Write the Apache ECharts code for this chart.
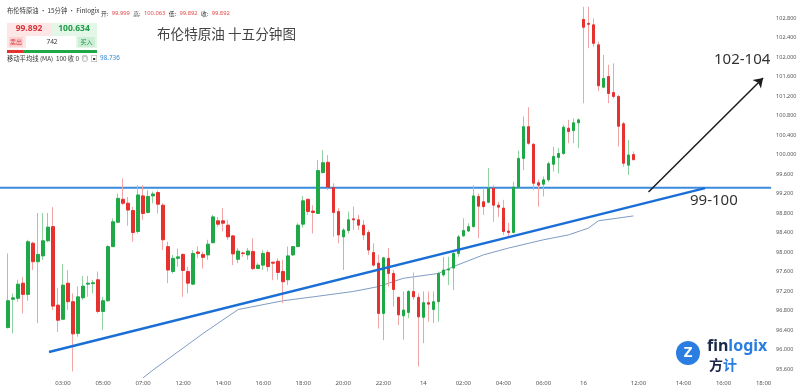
<!DOCTYPE html>
<html><head><meta charset="utf-8">
<script src="https://cdn.jsdelivr.net/npm/echarts@6/dist/echarts.min.js"></script>
<style>html,body{margin:0;padding:0;background:#fff}#c{width:800px;height:391px}</style>
</head><body><div id="c"></div>
<script>
// ---- data ----
const opens = [null,
96.45,97.03,97.05,97.36,97.13,98.18,97.80,97.92,98.23,98.52,
96.91,96.62,97.36,96.98,96.33,97.06,97.34,97.35,97.43,96.78,
97.00,98.11,98.61,99.08,99.00,98.85,98.42,99.15,98.81,99.15,
99.22,98.96,98.11,97.60,97.87,97.95,97.60,97.34,98.00,97.95,
97.94,98.19,98.64,98.64,98.55,98.33,97.85,97.98,97.94,98.01,
97.66,97.73,97.99,97.79,97.81,97.60,97.43,97.94,98.11,98.57,
99.08,98.84,98.79,99.63,99.84,99.32,98.83,98.31,98.44,98.68,
98.66,98.55,98.40,97.99,97.77,96.74,97.87,97.56,97.07,96.69,
96.76,97.19,97.07,96.66,96.96,96.82,96.98,97.53,97.63,97.67,
97.97,98.33,98.43,98.52,99.14,99.03,99.02,99.31,98.96,98.90,
98.43,98.40,99.33,99.92,100.57,100.21,99.42,99.39,99.48,99.80,
99.94,100.02,100.54,100.49,100.65,102.77,102.69,102.66,102.25,101.38,
101.60,101.27,101.19,100.63,99.78,99.999];
const closes = [null,
97.00,97.06,97.34,97.13,98.21,97.80,97.95,98.23,98.51,96.89,
96.60,97.32,96.98,96.32,97.08,97.30,97.36,97.37,96.78,97.00,
98.11,98.62,99.10,99.00,98.86,98.40,99.17,98.79,99.14,99.19,
98.98,98.25,97.63,97.87,97.90,97.62,97.36,97.97,97.97,97.89,
98.16,98.72,98.57,98.59,98.31,97.96,98.02,97.97,98.02,97.66,
97.73,97.97,97.70,97.77,97.58,97.39,97.92,98.11,98.55,99.05,
98.83,98.81,99.67,99.83,99.33,98.81,98.35,98.45,98.66,98.66,
98.55,98.35,98.04,97.73,96.74,97.88,97.56,97.23,96.71,96.81,
97.19,97.08,96.67,96.96,96.93,96.98,97.56,97.63,97.65,97.97,
98.31,98.44,98.52,99.15,98.94,98.93,99.31,98.96,98.92,98.42,
98.40,99.33,99.92,100.57,100.23,99.41,99.37,99.48,99.81,99.96,
100.02,100.56,100.47,100.65,100.71,102.61,102.67,102.28,101.41,101.56,
101.25,101.19,100.58,99.82,99.99,99.892];
const lows = [null,
96.43,96.33,96.98,96.74,97.00,97.63,96.54,97.84,98.20,96.81,
96.36,96.61,96.81,95.55,96.26,97.02,97.08,97.15,96.74,96.40,
96.98,98.10,98.59,98.96,98.54,98.21,98.38,98.66,98.79,99.00,
98.79,98.04,97.36,97.56,97.70,97.08,97.15,97.32,97.87,97.66,
97.84,98.18,98.52,98.42,98.25,97.73,97.77,97.90,97.84,97.63,
97.65,97.63,97.60,97.42,97.43,96.95,97.32,97.92,98.10,98.50,
98.76,98.38,98.78,99.61,99.27,98.31,98.18,97.63,98.38,98.45,
98.45,98.25,97.94,97.70,96.43,96.19,97.29,96.88,96.50,96.20,
96.64,97.02,95.65,96.13,96.57,96.54,96.57,97.49,97.32,97.22,
97.90,98.31,98.41,98.50,98.28,98.76,99.00,98.62,98.72,98.35,
98.31,98.38,99.31,99.68,100.20,99.27,98.93,99.14,99.44,99.65,
99.61,99.99,100.23,100.23,100.13,101.05,102.18,102.21,101.30,101.36,
101.05,101.15,100.16,99.75,99.58,99.892];
const highs = [null,
97.97,97.15,97.43,97.49,98.25,98.21,98.80,98.80,98.80,98.92,
97.26,97.75,97.63,97.15,97.29,97.51,97.51,97.43,97.60,97.08,
98.14,98.69,99.20,99.51,99.13,98.93,99.37,99.37,99.27,99.24,
99.26,99.00,98.21,97.94,98.07,97.97,97.70,98.04,98.11,98.01,
98.25,98.76,98.72,98.90,98.66,98.35,98.08,98.01,98.08,98.28,
97.77,98.04,98.04,97.80,97.87,97.84,98.11,98.12,98.59,99.15,
99.10,98.96,99.89,100.09,99.99,99.41,98.90,98.49,98.83,98.93,
98.76,98.66,98.45,98.18,97.94,97.90,98.08,97.63,97.08,97.19,
97.22,97.58,97.15,97.19,97.19,97.19,97.60,97.90,97.90,98.01,
98.35,98.69,98.59,99.37,99.20,99.31,99.72,99.37,99.03,99.07,
98.60,99.44,100.08,100.78,100.97,100.23,99.48,99.55,99.85,100.16,
100.13,100.61,100.71,100.74,100.74,103.03,103.03,102.79,102.31,102.04,
101.84,101.87,101.22,100.67,100.30,100.063];

const tickIndex = [12,20,28,36,44,52,60,68,76,84,92,100,108,116,127,136,144,152];
const tickText  = ['03:00','05:00','07:00','12:00','14:00','16:00','18:00','20:00','22:00','14','02:00','04:00','06:00','16','12:00','14:00','16:00','18:00'];
const yTicks = {min: 95.2, max: 103.169, step: 0.4};
const slotCount = 154;

const maX = [28,30,40,47,56,62,70,75,80,87,90,96,101,108,113,117,119,126];
const maY = [95.42,95.58,96.33,96.82,97.00,97.08,97.19,97.29,97.46,97.56,97.70,97.94,98.08,98.25,98.35,98.49,98.64,98.74];

const resistanceX = [-0.6, 153.5];
const resistanceY = 99.32;
const trendX = [9.2, 140.3];
const trendY = [95.95, 99.31];
const arrowX = [129.0, 151.9];
const arrowY = [99.23, 101.57];

// ---- build ----
const cats = Array.from({length: slotCount}, (_, i) => String(i));
const labelFor = {};
tickIndex.forEach((k, j) => { labelFor[k] = tickText[j]; });
const wickData = [], bodyData = [];
for (let i = 0; i < opens.length; i++) {
  if (opens[i] == null) { wickData.push('-'); bodyData.push('-'); continue; }
  wickData.push([opens[i], closes[i], lows[i], highs[i]]);
  bodyData.push([opens[i], closes[i], Math.min(opens[i], closes[i]), Math.max(opens[i], closes[i])]);
}
const GREEN = '#1fa846', RED = '#e5322f';
const FONT = "'Noto Sans','Noto Sans CJK SC',sans-serif";
const CJK = "'Noto Sans CJK SC','Noto Sans',sans-serif";

const chart = echarts.init(document.getElementById('c'), null, {renderer: 'canvas'});
chart.setOption({
  animation: false,
  backgroundColor: '#fff',
  grid: {left: -1.95, right: 28.9, top: 0, bottom: 2.52, containLabel: false},
  xAxis: [
    {type: 'category', data: cats, boundaryGap: true,
     axisLine: {show: false}, axisTick: {show: false}, splitLine: {show: false},
     axisLabel: {inside: true, margin: 2, interval: 0, fontSize: 6, color: '#555', fontFamily: FONT,
       formatter: (v, idx) => labelFor[idx] || ''}},
    {type: 'value', min: -0.5, max: slotCount - 0.5, show: false}
  ],
  yAxis: {type: 'value', position: 'right', min: yTicks.min, max: yTicks.max, interval: yTicks.step,
    scale: true,
    axisLine: {show: false}, axisTick: {show: false}, splitLine: {show: false},
    axisLabel: {margin: 5, fontSize: 5.5, color: '#555', fontFamily: FONT, showMinLabel: false, showMaxLabel: false,
      formatter: v => v.toFixed(3)}},
  series: [
    {type: 'line', xAxisIndex: 1, data: [[resistanceX[0], resistanceY], [resistanceX[1], resistanceY]],
     symbol: 'none', lineStyle: {color: '#3a8bdc', width: 2}, silent: true, z: 1},
    {type: 'line', xAxisIndex: 1, data: maX.map((x, i) => [x, maY[i]]),
     symbol: 'none', lineStyle: {color: '#7f9cc4', width: 1}, silent: true, z: 1},
    {type: 'line', xAxisIndex: 1, data: [[trendX[0], trendY[0]], [trendX[1], trendY[1]]],
     symbol: 'none', lineStyle: {color: '#1a6fd6', width: 2.5}, silent: true, z: 4,
     markLine: {silent: true, symbol: ['none', 'arrow'], symbolSize: 9,
       label: {show: false}, lineStyle: {color: '#1c1c1c', width: 1.5, type: 'solid'},
       data: [[{coord: [arrowX[0], arrowY[0]]}, {coord: [arrowX[1], arrowY[1]]}]]}},
    {type: 'candlestick', data: wickData, barWidth: 1, z: 2,
     itemStyle: {color: '#8fd2a0', color0: '#f2a5a5', borderColor: '#8fd2a0', borderColor0: '#f2a5a5', borderWidth: 1}},
    {type: 'candlestick', data: bodyData, barWidth: 3, z: 3,
     itemStyle: {color: GREEN, color0: RED, borderColor: GREEN, borderColor0: RED, borderWidth: 1}}
  ],
  graphic: [
    {type: 'text', left: 7, top: 7, style: {text: '布伦特原油 · 15分钟 · Finlogix', fontSize: 6.3, fill: '#333', fontFamily: CJK}},
    {type: 'text', left: 101, top: 7.5, style: {
      text: '{l|开:} {v|99.999} {l|高:} {v|100.063} {l|低:} {v|99.892} {l|收:} {v|99.892}',
      rich: {l: {fontSize: 5.8, fill: '#333', fontFamily: CJK}, v: {fontSize: 5.8, fill: '#e0484a', fontFamily: FONT}}}},
    {type: 'rect', shape: {x: 7, y: 23, width: 45, height: 25}, style: {fill: '#fde6e6'}},
    {type: 'rect', shape: {x: 52, y: 23, width: 45, height: 25}, style: {fill: '#e3f6e8'}},
    {type: 'rect', shape: {x: 26, y: 36, width: 50, height: 12}, style: {fill: '#ffffff'}},
    {type: 'rect', shape: {x: 9, y: 37, width: 14, height: 10}, style: {fill: '#fbd3d3'}},
    {type: 'rect', shape: {x: 78, y: 37, width: 17, height: 10}, style: {fill: '#cdeed6'}},
    {type: 'text', x: 29, y: 29, style: {text: '99.892', fontSize: 8.5, fontWeight: 'bold', fill: '#d6353a', fontFamily: FONT, align: 'center', verticalAlign: 'middle'}},
    {type: 'text', x: 74, y: 29, style: {text: '100.634', fontSize: 8.5, fontWeight: 'bold', fill: '#1e9b45', fontFamily: FONT, align: 'center', verticalAlign: 'middle'}},
    {type: 'text', x: 16, y: 42, style: {text: '卖出', fontSize: 6, fill: '#d6353a', fontFamily: CJK, align: 'center', verticalAlign: 'middle'}},
    {type: 'text', x: 52, y: 42, style: {text: '742', fontSize: 6.5, fill: '#333', fontFamily: FONT, align: 'center', verticalAlign: 'middle'}},
    {type: 'text', x: 86.5, y: 42, style: {text: '买入', fontSize: 6, fill: '#1e9b45', fontFamily: CJK, align: 'center', verticalAlign: 'middle'}},
    {type: 'rect', shape: {x: 7, y: 50, width: 16, height: 3}, style: {fill: RED}},
    {type: 'rect', shape: {x: 23, y: 50, width: 74, height: 3}, style: {fill: GREEN}},
    {type: 'text', left: 7, top: 55, style: {
      text: '{l|移动平均线 (MA)  100 收 0  ◎  ▣  }{v|98.736}',
      rich: {l: {fontSize: 6.3, fill: '#333', fontFamily: CJK}, v: {fontSize: 6.3, fill: '#2f86d6', fontFamily: FONT}}}},
    {type: 'text', left: 157, top: 27.5, style: {text: '布伦特原油 十五分钟图', fontSize: 13.6, fill: '#444', fontFamily: CJK}},
    {type: 'text', left: 714, top: 52, style: {text: '102-104', fontSize: 15, fill: '#333', fontFamily: FONT}},
    {type: 'text', left: 690, top: 193, style: {text: '99-100', fontSize: 15, fill: '#333', fontFamily: FONT}},
    {type: 'circle', shape: {cx: 688, cy: 353, r: 12}, style: {fill: '#2a7de1'}},
    {type: 'text', x: 688, y: 353, style: {text: 'Z', fontSize: 15, fontWeight: 'bold', fill: '#fff', fontFamily: FONT, align: 'center', verticalAlign: 'middle'}},
    {type: 'text', left: 707, top: 338, style: {text: '{a|fin}{b|logix}',
      rich: {a: {fontSize: 16, fontWeight: 'bold', fill: '#1b2747', fontFamily: FONT}, b: {fontSize: 16, fontWeight: 'bold', fill: '#2a7de1', fontFamily: FONT}}}},
    {type: 'text', left: 709, top: 358, style: {text: '{a|方}{b|计}',
      rich: {a: {fontSize: 14, fontWeight: 'bold', fill: '#1b2747', fontFamily: CJK}, b: {fontSize: 14, fontWeight: 'bold', fill: '#2a7de1', fontFamily: CJK}}}}
  ]
});
</script></body></html>
